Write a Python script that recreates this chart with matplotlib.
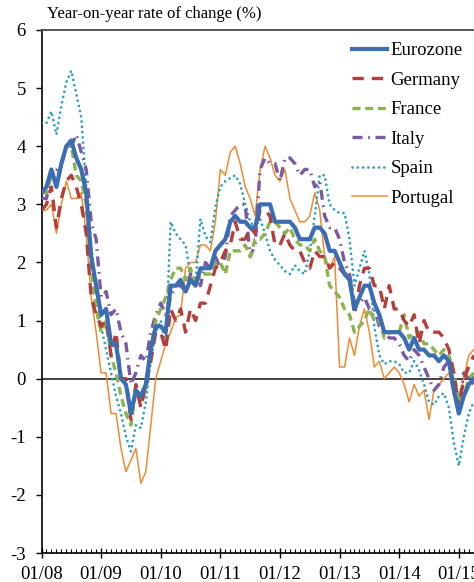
import matplotlib.pyplot as plt
from matplotlib.ticker import MultipleLocator

plt.rcParams['font.family'] = ['Liberation Serif', 'DejaVu Serif']
plt.rcParams['axes.unicode_minus'] = False

# monthly data, Jan 2008 -> Apr 2015
months = list(range(88))
tick_pos = [0, 12, 24, 36, 48, 60, 72, 84]
tick_labels = ['01/08', '01/09', '01/10', '01/11', '01/12', '01/13', '01/14', '01/15']

eurozone = [3.2, 3.3, 3.6, 3.3, 3.7, 4.0, 4.1, 3.8, 3.6, 3.2, 2.1, 1.6,
            1.1, 1.2, 0.6, 0.6, 0.0, -0.1, -0.6, -0.2, -0.3, -0.1, 0.5, 0.9,
            0.9, 0.8, 1.6, 1.6, 1.7, 1.5, 1.7, 1.6, 1.9, 1.9, 1.9, 2.2,
            2.3, 2.4, 2.7, 2.8, 2.7, 2.7, 2.6, 2.6, 3.0, 3.0, 3.0, 2.7,
            2.7, 2.7, 2.7, 2.6, 2.4, 2.4, 2.4, 2.6, 2.6, 2.5, 2.2, 2.2,
            2.0, 1.8, 1.7, 1.2, 1.4, 1.6, 1.6, 1.3, 1.1, 0.8, 0.8, 0.8,
            0.8, 0.7, 0.5, 0.7, 0.5, 0.5, 0.4, 0.4, 0.3, 0.4, 0.3, -0.2,
            -0.6, -0.3, -0.1, 0.0]
germany = [2.9, 3.0, 3.3, 2.6, 3.1, 3.4, 3.5, 3.3, 3.0, 2.5, 1.4, 1.1,
           0.9, 1.0, 0.4, 0.8, 0.0, 0.0, -0.7, -0.1, -0.5, -0.1, 0.3, 0.8,
           0.8, 0.5, 1.2, 1.0, 1.2, 0.8, 1.2, 1.0, 1.3, 1.3, 1.6, 1.9,
           2.0, 2.2, 2.3, 2.7, 2.4, 2.4, 2.6, 2.5, 2.9, 2.9, 2.8, 2.3,
           2.3, 2.5, 2.3, 2.2, 2.2, 2.0, 1.9, 2.2, 2.1, 2.1, 1.9, 2.0,
           1.9, 1.8, 1.8, 1.1, 1.6, 1.9, 1.9, 1.6, 1.6, 1.2, 1.6, 1.2,
           1.2, 1.0, 0.9, 1.1, 0.6, 1.0, 0.8, 0.8, 0.8, 0.7, 0.5, 0.1,
           -0.5, 0.0, 0.2, 0.4]
france = [3.2, 3.2, 3.5, 3.4, 3.7, 4.0, 4.0, 3.5, 3.4, 3.0, 1.9, 1.2,
          0.8, 1.0, 0.4, 0.1, -0.3, -0.6, -0.8, -0.2, -0.4, -0.2, 0.5, 1.0,
          1.2, 1.4, 1.7, 1.9, 1.9, 1.7, 1.9, 1.6, 1.8, 1.8, 1.8, 2.0,
          2.0, 1.8, 2.2, 2.2, 2.2, 2.3, 2.1, 2.4, 2.4, 2.5, 2.7, 2.7,
          2.6, 2.5, 2.6, 2.4, 2.3, 2.3, 2.2, 2.4, 2.2, 2.1, 1.6, 1.5,
          1.4, 1.2, 1.1, 0.8, 0.9, 1.0, 1.2, 1.0, 1.0, 0.7, 0.8, 0.8,
          0.8, 1.1, 0.7, 0.8, 0.8, 0.6, 0.6, 0.5, 0.4, 0.5, 0.4, 0.1,
          -0.4, -0.3, 0.0, 0.1]
italy = [3.1, 3.1, 3.6, 3.6, 3.7, 4.0, 4.0, 4.2, 3.9, 3.6, 2.7, 2.4,
         1.4, 1.5, 1.1, 1.2, 0.8, 0.6, -0.1, 0.1, 0.4, 0.3, 0.8, 1.1,
         1.3, 1.1, 1.4, 1.6, 1.6, 1.5, 1.8, 1.8, 1.6, 2.0, 1.9, 2.1,
         1.9, 2.1, 2.8, 2.9, 3.0, 3.0, 2.1, 2.3, 3.6, 3.8, 3.7, 3.7,
         3.4, 3.8, 3.8, 3.7, 3.5, 3.6, 3.6, 3.3, 3.4, 2.8, 2.6, 2.6,
         2.4, 2.0, 1.8, 1.3, 1.3, 1.4, 1.2, 1.2, 0.9, 0.8, 0.7, 0.7,
         0.6, 0.4, 0.3, 0.5, 0.4, 0.2, 0.0, -0.2, -0.1, 0.2, 0.3, -0.1,
         -0.5, 0.1, 0.0, -0.1]
spain = [4.4, 4.4, 4.6, 4.2, 4.7, 5.1, 5.3, 4.9, 4.5, 3.3, 2.3, 1.6,
         0.9, 0.5, 0.1, -0.3, -0.6, -1.0, -1.25, -0.8, -0.85, -0.4, 0.3, 0.8,
         1.0, 0.6, 2.7, 2.5, 2.4, 2.3, 1.75, 1.65, 2.75, 2.45, 2.35, 2.95,
         3.3, 3.4, 3.45, 3.5, 3.35, 3.0, 2.7, 2.6, 2.75, 2.5, 2.2, 2.05,
         1.95, 1.85, 1.8, 1.95, 1.85, 1.8, 2.2, 2.8, 3.5, 3.5, 3.0, 2.9,
         2.85, 2.85, 2.4, 1.6, 1.9, 2.2, 1.8, 0.9, 0.4, 0.25, 0.3, 0.3,
         0.25, 0.1, 0.1, 0.3, 0.15, -0.1, -0.4, -0.45, -0.3, -0.25, -0.5, -1.1,
         -1.5, -1.0, -0.6, -0.4]
portugal = [2.9, 2.9, 3.0, 2.5, 3.0, 3.4, 3.1, 3.1, 3.2, 2.5, 1.4, 0.8,
            0.1, 0.1, -0.6, -0.6, -1.2, -1.6, -1.4, -1.2, -1.8, -1.6, -0.8, 0.0,
            0.3, 0.6, 0.8, 1.05, 1.1, 1.9, 2.0, 2.0, 2.3, 2.3, 2.2, 2.7,
            3.6, 3.5, 3.9, 4.0, 3.7, 3.3, 3.1, 2.8, 3.6, 4.0, 3.8, 3.5,
            3.4, 3.6, 3.1, 2.9, 2.7, 2.7, 2.8, 3.2, 2.9, 2.1, 1.9, 2.1,
            0.2, 0.2, 0.7, 0.4, 0.9, 1.2, 0.8, 0.2, 0.3, 0.0, 0.1, 0.2,
            0.1, -0.1, -0.4, -0.1, -0.3, -0.2, -0.7, -0.2, -0.1, 0.0, 0.1, -0.3,
            -0.4, 0.0, 0.4, 0.5]

fig = plt.figure(figsize=(4.74, 5.82), dpi=100)
ax = fig.add_axes([41.5 / 474, 29 / 582, 90 * 4.968 / 474, 523 / 582])

ax.axhline(0, color='#333333', lw=1.3, zorder=1)

ax.plot(months, portugal, color='#F08A32', lw=1.1, label='Portugal', zorder=2)
ax.plot(months, spain, color='#2E9FBF', lw=2.0, dashes=(0.01, 1.9),
        dash_capstyle='round', label='Spain', zorder=3)
ax.plot(months, italy, color='#7A5AA2', lw=2.4, dashes=(3.0, 1.7, 0.5, 1.7), label='Italy', zorder=4)
ax.plot(months, france, color='#8EB24E', lw=2.4, dashes=(2.4, 1.4), label='France', zorder=5)
ax.plot(months, germany, color='#B33E3A', lw=2.4, dashes=(3.4, 2.4), label='Germany', zorder=6)
ax.plot(months, eurozone, color='#3A6DB2', lw=3.0, label='Eurozone', zorder=7)

ax.set_xlim(0, 90)
ax.set_ylim(-3, 6)
ax.set_xticks(tick_pos)
ax.set_xticklabels(tick_labels)
ax.xaxis.set_minor_locator(MultipleLocator(1))
ax.yaxis.set_major_locator(MultipleLocator(1))
ax.tick_params(axis='x', which='major', direction='inout', length=7, width=1, pad=6, labelsize=13.5)
ax.tick_params(axis='x', which='minor', direction='in', length=2.6, width=0.8)
ax.tick_params(axis='y', which='major', direction='out', length=4.3, width=1, pad=7, labelsize=13.5)

ax.spines['right'].set_visible(False)
ax.spines['top'].set_color('#555555')
ax.spines['top'].set_linewidth(1.4)
ax.spines['left'].set_linewidth(1.2)
ax.spines['bottom'].set_linewidth(1.2)

handles, labels = ax.get_legend_handles_labels()
order = ['Eurozone', 'Germany', 'France', 'Italy', 'Spain', 'Portugal']
hmap = dict(zip(labels, handles))
fig.legend([hmap[k] for k in order], order, loc='upper left',
           bbox_to_anchor=(352 / 474, 1 - 42 / 582), frameon=False,
           fontsize=13.5, handlelength=1.85, handletextpad=0.2,
           labelspacing=0.66, borderpad=0, borderaxespad=0)

fig.text(47 / 474, 1 - 14 / 582, 'Year-on-year rate of change (%)', fontsize=12, va='center', ha='left')

fig.savefig('out.png', dpi=100)
